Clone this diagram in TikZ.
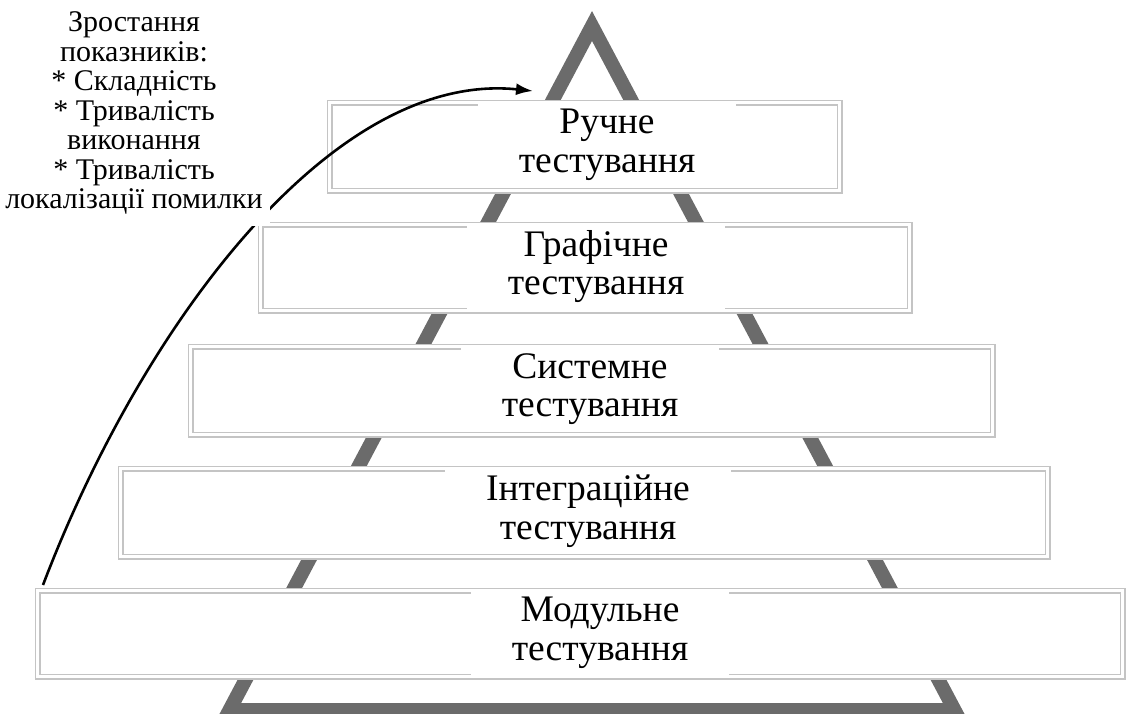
\documentclass[tikz,border=0pt]{standalone}
\usepackage{fontspec}
\setmainfont{Liberation Serif}
\usetikzlibrary{arrows.meta}

\begin{document}
\begin{tikzpicture}[x=1pt,y=-1pt,
  level/.style={rectangle, draw=black!23, line width=1.8pt, double=white,
    double distance=2.4pt, fill=white, inner sep=0pt},
  title/.style={fill=white, align=center, inner xsep=41pt, inner ysep=0pt,
    minimum height=84pt, font=\fontsize{37.5}{38.5}\selectfont},
  note/.style={fill=white, align=center, inner sep=0pt, minimum width=272pt,
    minimum height=226pt, font=\fontsize{30}{29.5}\selectfont}]
\useasboundingbox (0,0) rectangle (1126,713);

% pyramid behind the levels
\draw[line width=14pt, black!58, line join=miter] (229.5,710) -- (592,26) -- (954.5,710) -- cycle;

\node[level, minimum width=510pt, minimum height=88pt] (manual) at (584.5,146.5) {};
\node[level, minimum width=649pt, minimum height=86pt] (gui) at (585,267.5) {};
\node[level, minimum width=802pt, minimum height=88pt] (system) at (591.5,390.5) {};
\node[level, minimum width=927pt, minimum height=88pt] (integr) at (584,512.5) {};
\node[level, minimum width=1085pt, minimum height=86pt] (unit) at (580,633.5) {};

\coordinate (start) at (43,585);
\coordinate (tip) at (533,91);
\draw[line width=2.6pt, -{Latex[length=17pt,width=12pt]}] (start) .. controls (140,330) and (330,70) .. (tip);

\node[title] (manualtxt) at (607,145) {Ручне\\тестування};
\node[title] (guitxt) at (596,266.5) {Графічне\\тестування};
\node[title] (systemtxt) at (590,389) {Системне\\тестування};
\node[title] (integrtxt) at (588,511) {Інтеграційне\\тестування};
\node[title] (unittxt) at (600,633) {Модульне\\тестування};

\node[note] (growth) at (134,113) {Зростання\\показників:\\* Складність\\* Тривалість\\виконання\\* Тривалість\\локалізації помилки};
\end{tikzpicture}
\end{document}
